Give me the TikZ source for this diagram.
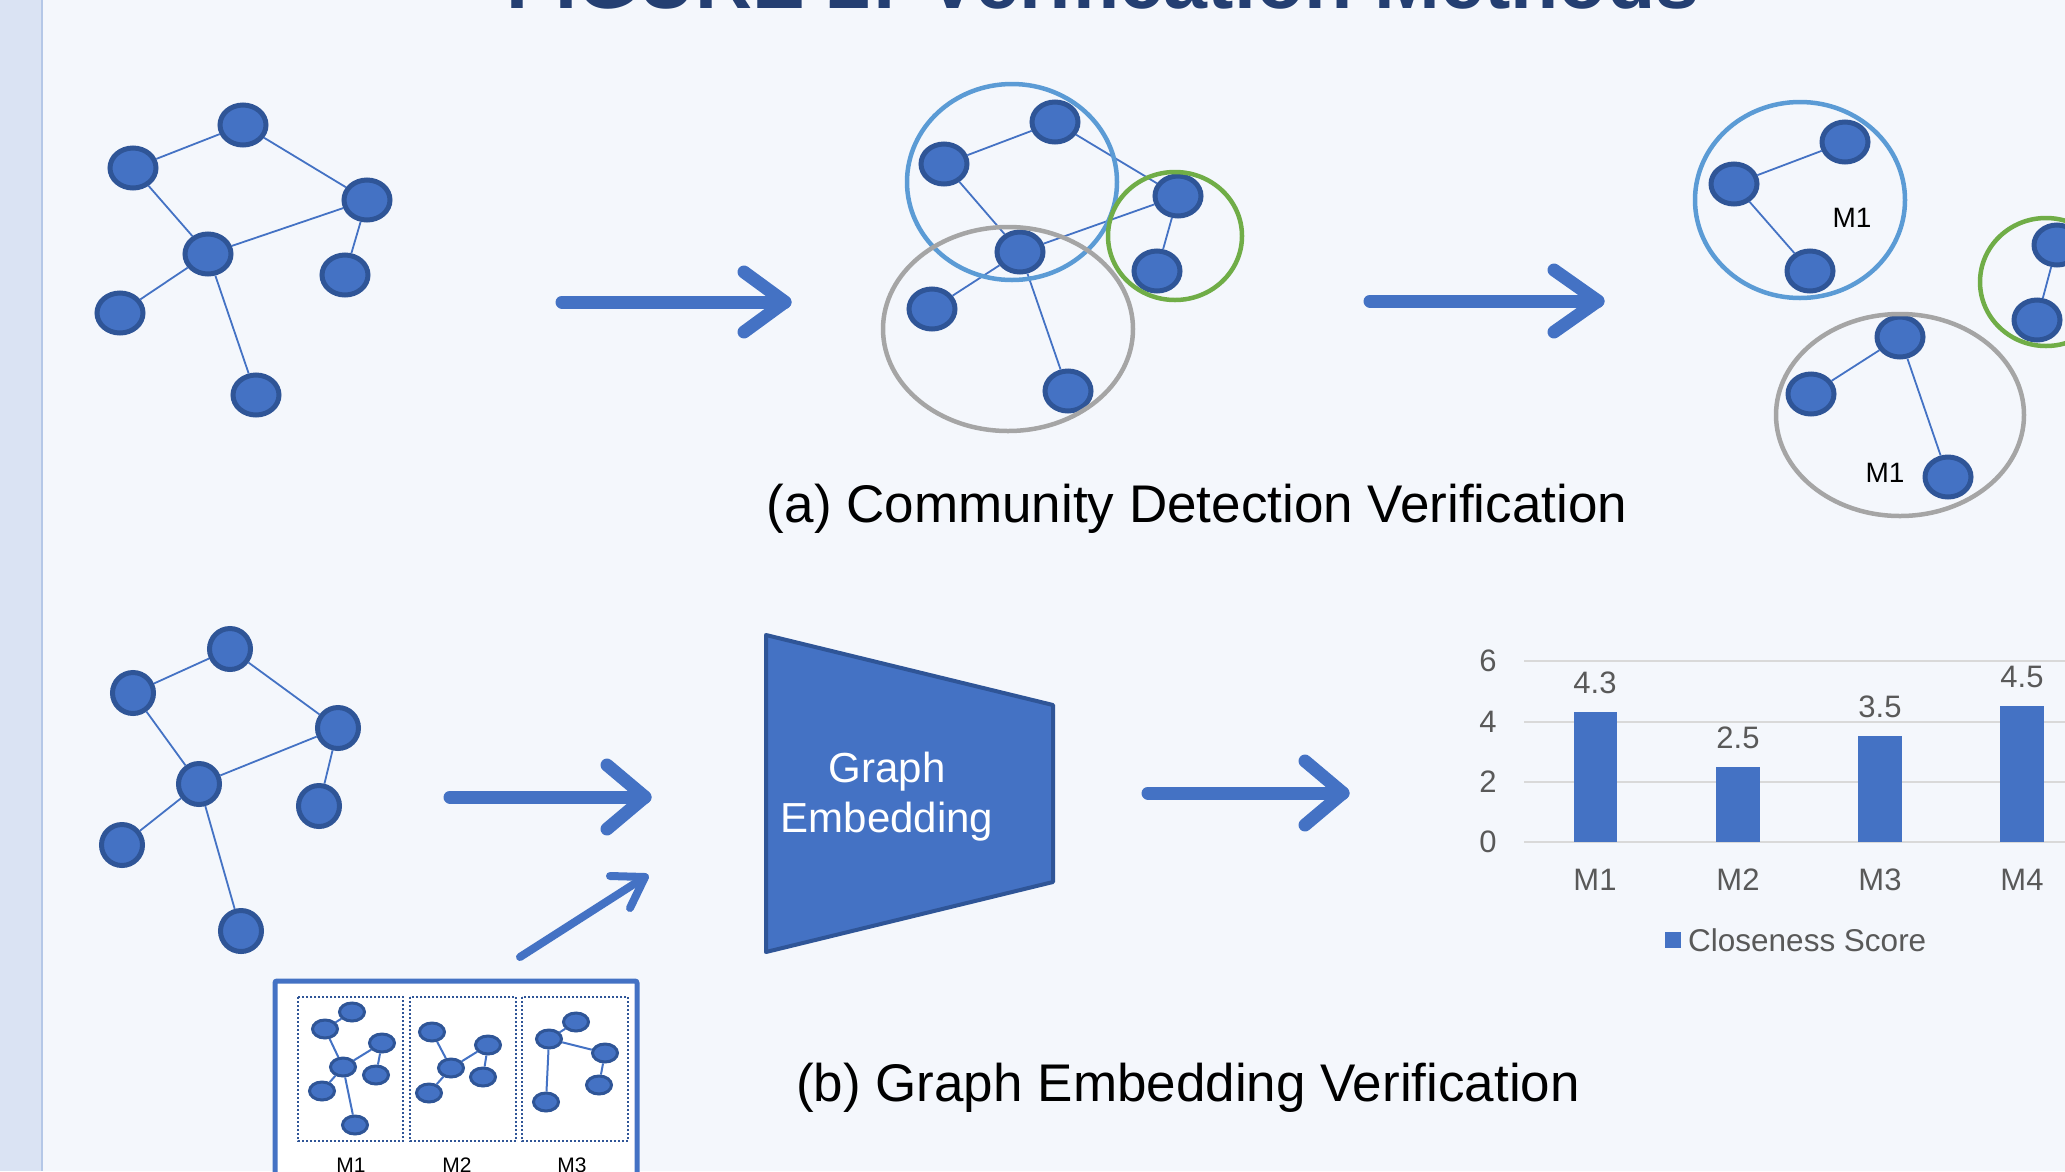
\documentclass[tikz,border=0pt]{standalone}
\usepackage{fontspec}
\setmainfont{Liberation Sans}
\usetikzlibrary{shapes.geometric,calc}
\definecolor{bg}{HTML}{F4F7FC}
\definecolor{strip}{HTML}{DAE3F3}
\definecolor{stripline}{HTML}{B4C7E7}
\definecolor{nodefill}{HTML}{4472C4}
\definecolor{nodeline}{HTML}{2F5597}
\definecolor{cblue}{HTML}{5B9BD5}
\definecolor{cgray}{HTML}{A5A5A5}
\definecolor{cgreen}{HTML}{70AD47}
\definecolor{gridcol}{HTML}{D9D9D9}
\definecolor{axtext}{HTML}{595959}
\definecolor{titlecol}{HTML}{243F72}
\newcommand{\myfs}[1]{\fontsize{#1pt}{1.1\dimexpr #1pt\relax}\selectfont}
\begin{document}
\begin{tikzpicture}[x=1pt,y=-1pt,
  gn/.style={ellipse, fill=nodefill, draw=nodeline, line width=5pt, minimum width=46pt, minimum height=40pt, inner sep=0pt},
  gc/.style={circle, fill=nodefill, draw=nodeline, line width=5pt, minimum size=41pt, inner sep=0pt},
  mn/.style={ellipse, fill=nodefill, draw=nodeline, line width=3pt, minimum width=25pt, minimum height=18pt, inner sep=0pt},
  edge/.style={draw=nodefill, line width=1.8pt},
  medge/.style={draw=nodefill, line width=2pt},
  comm/.style={line width=4.5pt},
  bigarrow/.style={draw=nodefill, line width=13pt, line cap=round, line join=round},
  thinarrow/.style={draw=nodefill, line width=8pt, line cap=round, line join=round},
  caption/.style={font=\myfs{53}, text=black, inner sep=0pt},
  axlab/.style={font=\myfs{31}, text=axtext, inner sep=0pt},
  mlab/.style={font=\myfs{28}, text=black, inner sep=0pt},
  boxlab/.style={font=\myfs{21}, text=black, inner sep=0pt, anchor=base},
  dotbox/.style={draw=nodeline, line width=2pt, dash pattern=on 2pt off 2pt}
]
\useasboundingbox (0,0) rectangle (2065,1171);
\fill[bg] (0,0) rectangle (2065,1171);
\fill[strip] (0,0) rectangle (42,1171);
\draw[stripline, line width=1.5pt] (42,0) -- (42,1171);

% title (mostly cut off at top, as in the reference)
\node[anchor=base, font=\bfseries\myfs{79}, text=titlecol, inner sep=0pt] (title) at (1103,8) {FIGURE 2: Verification Methods};

% ---------- Graph 1 ----------
\node[gn] (g1a) at (133,168) {};
\node[gn] (g1b) at (243,125) {};
\node[gn] (g1c) at (367,200) {};
\node[gn] (g1d) at (208,254) {};
\node[gn] (g1e) at (345,275) {};
\node[gn] (g1f) at (120,313) {};
\node[gn] (g1g) at (256,395) {};
\draw[edge] (g1a) -- (g1b);
\draw[edge] (g1b) -- (g1c);
\draw[edge] (g1a) -- (g1d);
\draw[edge] (g1c) -- (g1d);
\draw[edge] (g1c) -- (g1e);
\draw[edge] (g1d) -- (g1f);
\draw[edge] (g1d) -- (g1g);

% ---------- Graph 2 ----------
\node[gn] (g2a) at (944,164) {};
\node[gn] (g2b) at (1055,122) {};
\node[gn] (g2c) at (1178,196) {};
\node[gn] (g2d) at (1020,252) {};
\node[gn] (g2e) at (1157,271) {};
\node[gn] (g2f) at (932,309) {};
\node[gn] (g2g) at (1068,391) {};
\draw[edge] (g2a) -- (g2b);
\draw[edge] (g2b) -- (g2c);
\draw[edge] (g2a) -- (g2d);
\draw[edge] (g2c) -- (g2d);
\draw[edge] (g2c) -- (g2e);
\draw[edge] (g2d) -- (g2f);
\draw[edge] (g2d) -- (g2g);
\draw[comm, cblue] (1012,182) ellipse [x radius=105pt, y radius=98pt];
\draw[comm, cgray] (1008,329) ellipse [x radius=125pt, y radius=102pt];
\draw[comm, cgreen] (1175,236) ellipse [x radius=67pt, y radius=64pt];

% ---------- Graph 3 ----------
\node[gn] (g3a) at (1734,184) {};
\node[gn] (g3b) at (1845,142) {};
\node[gn] (g3c) at (1810,271) {};
\draw[edge] (g3a) -- (g3b);
\draw[edge] (g3a) -- (g3c);
\node[mlab] (m1a) at (1852,218) {M1};
\draw[comm, cblue] (1800,200) ellipse [x radius=105pt, y radius=98pt];
\node[gn] (g3d) at (1900,337) {};
\node[gn] (g3f) at (1811,394) {};
\node[gn] (g3g) at (1948,477) {};
\draw[edge] (g3d) -- (g3f);
\draw[edge] (g3d) -- (g3g);
\node[mlab] (m1b) at (1885,473) {M1};
\draw[comm, cgray] (1900,415) ellipse [x radius=124pt, y radius=101pt];
\node[gn] (g3h) at (2057,245) {};
\node[gn] (g3i) at (2037,320) {};
\draw[edge] (g3h) -- (g3i);
\draw[comm, cgreen] (2046,282) ellipse [x radius=66pt, y radius=64pt];

% ---------- top arrows ----------
\coordinate (a1s) at (562,302);
\coordinate (a1t) at (785,302);
\draw[bigarrow] (a1s) -- (a1t);
\draw[bigarrow] ($(a1t)+(-41,-30)$) -- (a1t) -- ($(a1t)+(-41,30)$);
\coordinate (a2s) at (1370,301);
\coordinate (a2t) at (1598,301);
\draw[bigarrow] (a2s) -- (a2t);
\draw[bigarrow] ($(a2t)+(-44,-31)$) -- (a2t) -- ($(a2t)+(-44,31)$);

\node[caption] (capa) at (1197,509) {(a) Community Detection Verification};

% ---------- Graph 4 ----------
\node[gc] (g4a) at (133,693) {};
\node[gc] (g4b) at (230,649) {};
\node[gc] (g4c) at (338,728) {};
\node[gc] (g4d) at (199,784) {};
\node[gc] (g4e) at (319,806) {};
\node[gc] (g4f) at (122,845) {};
\node[gc] (g4g) at (241,931) {};
\draw[edge] (g4a) -- (g4b);
\draw[edge] (g4b) -- (g4c);
\draw[edge] (g4a) -- (g4d);
\draw[edge] (g4c) -- (g4d);
\draw[edge] (g4c) -- (g4e);
\draw[edge] (g4d) -- (g4f);
\draw[edge] (g4d) -- (g4g);

% ---------- (b) arrows ----------
\coordinate (b1s) at (450,797);
\coordinate (b1t) at (645,797);
\draw[bigarrow] (b1s) -- (b1t);
\draw[bigarrow] ($(b1t)+(-38,-32)$) -- (b1t) -- ($(b1t)+(-38,32)$);
\coordinate (b2s) at (520,957);
\coordinate (b2t) at (645,877);
\draw[thinarrow] (b2s) -- (b2t);
\draw[thinarrow] (610,876) -- (b2t) -- (630,908);
\coordinate (b3s) at (1148,793);
\coordinate (b3t) at (1343,793);
\draw[bigarrow] (b3s) -- (b3t);
\draw[bigarrow] ($(b3t)+(-38,-32)$) -- (b3t) -- ($(b3t)+(-38,32)$);

% ---------- Graph embedding trapezoid ----------
\draw[fill=nodefill, draw=nodeline, line width=4pt, line join=round] (766,635) -- (1053,705) -- (1053,882) -- (766,952) -- cycle;
\node[font=\myfs{42}, text=white, align=center, inner sep=0pt] (ge) at (887,797) {Graph\\[4pt]Embedding};

% ---------- chart ----------
\foreach \v/\yy in {0/842,2/782,4/722,6/661} {
  \draw[gridcol, line width=1.5pt] (1524,\yy) -- (2065,\yy);
  \node[axlab] (yl\v) at (1488,\yy) {\v};
}
\fill[nodefill] (1574,842) rectangle (1617,712.3);
\fill[nodefill] (1716,842) rectangle (1760,766.6);
\fill[nodefill] (1858,842) rectangle (1902,736.4);
\fill[nodefill] (2000,842) rectangle (2044,706.2);
\node[axlab] (v1) at (1595,683) {4.3};
\node[axlab] (v2) at (1738,738) {2.5};
\node[axlab] (v3) at (1880,707) {3.5};
\node[axlab] (v4) at (2022,677) {4.5};
\node[axlab] (c1) at (1595,880) {M1};
\node[axlab] (c2) at (1738,880) {M2};
\node[axlab] (c3) at (1880,880) {M3};
\node[axlab] (c4) at (2022,880) {M4};
\fill[nodefill] (1665,932) rectangle (1681,948);
\node[axlab, font=\myfs{31.5}, anchor=west] (leg) at (1688,940) {Closeness Score};

\node[caption] (capb) at (1188,1088) {(b) Graph Embedding Verification};

% ---------- model box ----------
\draw[fill=white, draw=nodefill, line width=5pt, rounded corners=2pt] (275,981) rectangle (637,1210);
\draw[dotbox] (298,997) rectangle (403,1141);
\draw[dotbox] (410,997) rectangle (516,1141);
\draw[dotbox] (522,997) rectangle (628,1141);
% box 1
\node[mn] (p1a) at (325,1029) {};
\node[mn] (p1b) at (352,1012) {};
\node[mn] (p1c) at (382,1043) {};
\node[mn] (p1d) at (343,1067) {};
\node[mn] (p1e) at (376,1075) {};
\node[mn] (p1f) at (322,1091) {};
\node[mn] (p1g) at (355,1125) {};
\draw[medge] (p1a) -- (p1b);
\draw[medge] (p1a) -- (p1d);
\draw[medge] (p1d) -- (p1c);
\draw[medge] (p1c) -- (p1e);
\draw[medge] (p1d) -- (p1f);
\draw[medge] (p1d) -- (p1g);
% box 2
\node[mn] (p2a) at (432,1032) {};
\node[mn] (p2b) at (488,1045) {};
\node[mn] (p2c) at (451,1068) {};
\node[mn] (p2d) at (483,1077) {};
\node[mn] (p2e) at (429,1093) {};
\draw[medge] (p2a) -- (p2c);
\draw[medge] (p2c) -- (p2b);
\draw[medge] (p2b) -- (p2d);
\draw[medge] (p2c) -- (p2e);
% box 3
\node[mn] (p3a) at (576,1022) {};
\node[mn] (p3b) at (549,1039) {};
\node[mn] (p3c) at (605,1053) {};
\node[mn] (p3d) at (599,1085) {};
\node[mn] (p3e) at (546,1102) {};
\draw[medge] (p3b) -- (p3a);
\draw[medge] (p3b) -- (p3c);
\draw[medge] (p3c) -- (p3d);
\draw[medge] (p3b) -- (p3e);
\node[boxlab] (lm1) at (351,1172) {M1};
\node[boxlab] (lm2) at (457,1172) {M2};
\node[boxlab] (lm3) at (572,1172) {M3};
\end{tikzpicture}
\end{document}
